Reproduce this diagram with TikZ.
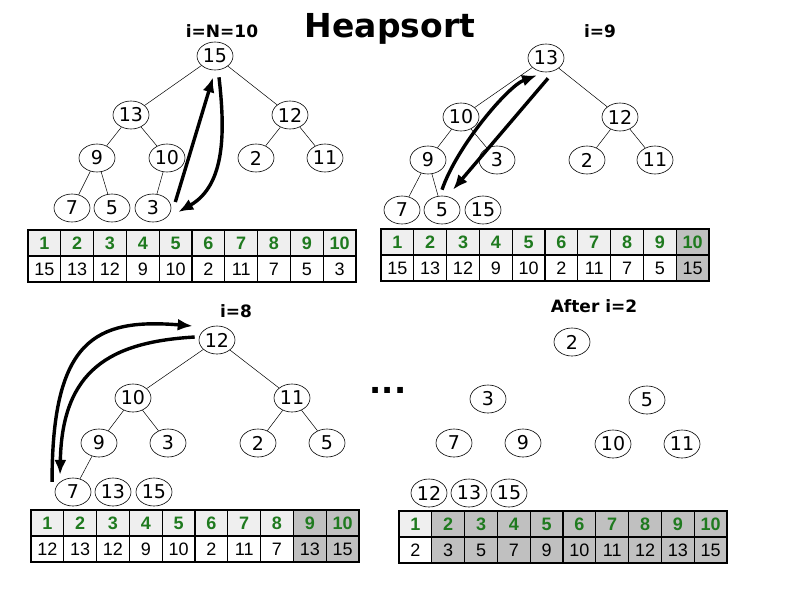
\documentclass[tikz,border=0pt]{standalone}
\usepackage{fontspec}
\setmainfont{DejaVu Sans}
\newfontfamily\tabfont{Liberation Sans}
\usepackage{tikz}
\usetikzlibrary{shapes.geometric, arrows.meta, positioning}
\definecolor{HeadGreen}{HTML}{1F7A1F}
\definecolor{HeadGray}{HTML}{EFEFEF}
\definecolor{CellGray}{HTML}{C0C0C0}

\tikzset{
  heapnode/.style={ellipse, draw, line width=0.6pt, minimum width=36pt, minimum height=28pt, inner sep=0pt, font=\fontsize{19}{19}\selectfont},
  link/.style={line width=0.5pt},
  swaparrow/.style={-{Latex[length=15pt,width=12pt]}, line width=3.4pt},
  steplabel/.style={font=\bfseries\fontsize{17}{17}\selectfont, anchor=base},
  headcell/.style={minimum width=32.8pt, minimum height=26pt, inner sep=0pt, outer sep=0pt, anchor=north west, text=HeadGreen, font=\tabfont\bfseries\fontsize{18}{18}\selectfont},
  valcell/.style={minimum width=32.8pt, minimum height=26pt, inner sep=0pt, outer sep=0pt, font=\tabfont\fontsize{18}{18}\selectfont},
  gridline/.style={line width=1.3pt}
}

% array below a tree: name, x, y, values, first sorted column
\newcommand{\heaptable}[5]{%
  \foreach \v [count=\k] in {#4} {%
    \ifnum\k<#5\relax \def\headc{HeadGray}\def\valc{white}\else \def\headc{CellGray}\def\valc{CellGray}\fi
    \node[headcell, fill=\headc] (#1h\k) at ({#2+(\k-1)*32.8},#3) {\k};
    \node[valcell, fill=\valc, below=0pt of #1h\k] (#1v\k) {\v};
  }%
  \draw[gridline] (#1h1.south west) -- (#1h10.south east);
  \foreach \k in {2,...,10} \draw[gridline] (#1h\k.north west) -- (#1v\k.south west);
  \draw[line width=2pt] (#1h1.north west) rectangle (#1v10.south east);
}

\begin{document}
\begin{tikzpicture}[x=1pt, y=-1pt]
  \useasboundingbox (0,0) rectangle (794,595);
  \node[font=\bfseries\fontsize{33}{33}\selectfont, anchor=base] (title) at (390,37) {Heapsort};

  % i=N=10
  \node[steplabel] (la) at (222,37) {i=N=10};
  \node[heapnode] (a15) at (215,56) {15};
  \node[heapnode] (a13) at (131,115) {13};
  \node[heapnode] (a12) at (290,115) {12};
  \node[heapnode] (a9) at (97,158) {9};
  \node[heapnode] (a10) at (167,158) {10};
  \node[heapnode] (a2) at (256,158) {2};
  \node[heapnode] (a11) at (325,158) {11};
  \node[heapnode] (a7) at (72,208) {7};
  \node[heapnode] (a5) at (112,208) {5};
  \node[heapnode] (a3) at (153,208) {3};
  \draw[link] (a15) -- (a13) (a15) -- (a12) (a13) -- (a9) (a13) -- (a10)
    (a12) -- (a2) (a12) -- (a11) (a9) -- (a7) (a9) -- (a5) (a10) -- (a3);
  \draw[swaparrow] ([shift={(4,-6)}]a3.east) -- ([shift={(-2,7)}]a15.south);
  \draw[swaparrow] ([shift={(4,7)}]a15.south) .. controls (225,130) and (226,185) .. ([shift={(7,4)}]a3.east);
  \heaptable{a}{28}{230}{15,13,12,9,10,2,11,7,5,3}{11}

  % i=9
  \node[steplabel] (lb) at (600,37) {i=9};
  \node[heapnode] (b13) at (546,58) {13};
  \node[heapnode] (b10) at (461,117) {10};
  \node[heapnode] (b12) at (620,117) {12};
  \node[heapnode] (b9) at (428,160) {9};
  \node[heapnode] (b3) at (497,160) {3};
  \node[heapnode] (b2) at (587,160) {2};
  \node[heapnode] (b11) at (655,160) {11};
  \node[heapnode] (b7) at (402,210) {7};
  \node[heapnode] (b5) at (442,210) {5};
  \node[heapnode] (b15) at (483,210) {15};
  \draw[link] (b13) -- (b10) (b13) -- (b12) (b10) -- (b9) (b10) -- (b3)
    (b12) -- (b2) (b12) -- (b11) (b9) -- (b7) (b9) -- (b5);
  \draw[swaparrow] ([shift={(0,-6)}]b5.north) .. controls (457,146) and (508,86) .. ([shift={(-9,3)}]b13.south);
  \draw[swaparrow] ([shift={(2,6)}]b13.south) -- ([shift={(11,-6)}]b5.north);
  \heaptable{b}{381}{229}{15,13,12,9,10,2,11,7,5,15}{10}

  % i=8
  \node[steplabel] (lc) at (236,317) {i=8};
  \node[heapnode] (c12) at (217,340) {12};
  \node[heapnode] (c10) at (133,398) {10};
  \node[heapnode] (c11) at (292,398) {11};
  \node[heapnode] (c9) at (99,443) {9};
  \node[heapnode] (c3) at (168,443) {3};
  \node[heapnode] (c2) at (258,443) {2};
  \node[heapnode] (c5) at (327,443) {5};
  \node[heapnode] (c7) at (73,492) {7};
  \node[heapnode] (c13) at (113,492) {13};
  \node[heapnode] (c15) at (154,492) {15};
  \draw[link] (c12) -- (c10) (c12) -- (c11) (c10) -- (c9) (c10) -- (c3)
    (c11) -- (c2) (c11) -- (c5) (c9) -- (c7);
  \draw[swaparrow] ([shift={(-8,0)}]c7.north west) .. controls (52,340) and (95,318) .. ([shift={(-6,-14)}]c12.west);
  \draw[swaparrow] ([shift={(-4,-3)}]c12.west) .. controls (110,342) and (62,370) .. ([shift={(0,-7)}]c7.north west);
  \heaptable{c}{31}{510}{12,13,12,9,10,2,11,7,13,15}{9}

  \node[font=\bfseries\fontsize{32}{32}\selectfont, anchor=base] (dots) at (388,393) {...};

  % After i=2
  \node[steplabel] (ld) at (594,312) {After i=2};
  \node[heapnode] (d2) at (572,342) {2};
  \node[heapnode] (d3) at (488,399) {3};
  \node[heapnode] (d5) at (647,400) {5};
  \node[heapnode] (d7) at (454,443) {7};
  \node[heapnode] (d9) at (523,443) {9};
  \node[heapnode] (d10) at (613,444) {10};
  \node[heapnode] (d11) at (682,444) {11};
  \node[heapnode] (d12) at (429,493) {12};
  \node[heapnode] (d13) at (469,493) {13};
  \node[heapnode] (d15) at (509,493) {15};
  \heaptable{d}{399}{511}{2,3,5,7,9,10,11,12,13,15}{2}
\end{tikzpicture}
\end{document}
